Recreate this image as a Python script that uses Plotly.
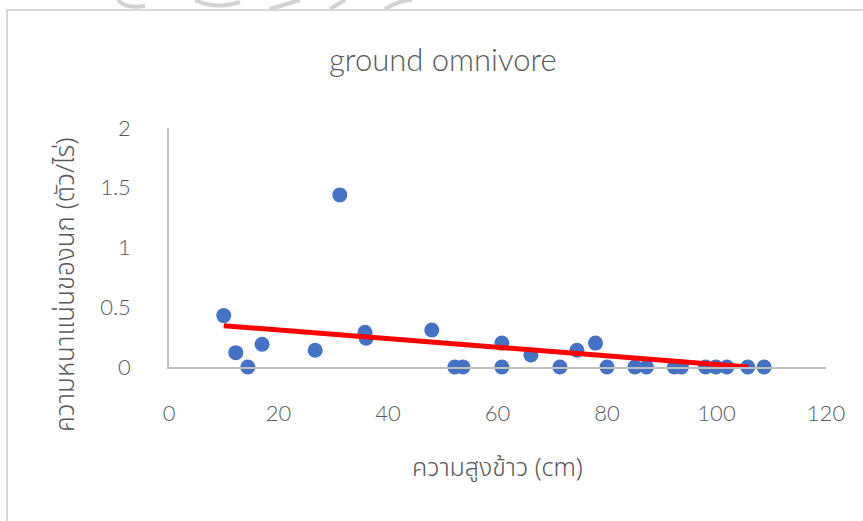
import numpy as np
import plotly.graph_objects as go

# Rice height (cm) vs. ground-omnivore bird density (birds per rai)
rice_height = [10.0, 12.2, 14.4, 17.0, 26.7, 31.2, 35.8, 36.0, 48.0, 52.2, 53.7,
               60.8, 60.8, 66.1, 71.4, 74.5, 77.9, 80.0, 85.1, 87.2, 92.3, 93.6,
               98.0, 99.9, 101.9, 105.7, 108.7]
bird_density = [0.43, 0.12, 0.0, 0.19, 0.14, 1.44, 0.29, 0.24, 0.31, 0.0, 0.0,
                0.20, 0.0, 0.10, 0.0, 0.14, 0.20, 0.0, 0.0, 0.0, 0.0, 0.0,
                0.0, 0.0, 0.0, 0.0, 0.0]

# Linear trendline (intercept, slope)
trend_coef = [0.382, -0.00361]

x_ticks = [0, 20, 40, 60, 80, 100, 120]
y_ticks = [0, 0.5, 1, 1.5, 2]
y_tick_text = ["0", "0.5", "1", "1.5", "2"]

title_text = "ground omnivore"
x_title = "ความสูงข้าว (cm)"
y_title = "ความหนาแน่นของนก (ตัว/ไร่)"

LATIN_FONT = "Lato"
THAI_FONT = "Noto Sans Thai, Noto Sans, sans-serif"
GREY_TEXT = "#595959"
AXIS_GREY = "#BFBFBF"

W, H = 863, 521
L, R, T, B = 169, 37, 128, 154
pw, ph = W - L - R, H - T - B


def px(x):
    return (x - L) / pw


def py(y):
    return (H - B - y) / ph


# trendline drawn from the smallest x until it meets the x axis (y = 0)
x_end = min(max(rice_height), -trend_coef[0] / trend_coef[1])
trend_x = np.array([min(rice_height), x_end])
trend_y = trend_coef[0] + trend_coef[1] * trend_x

fig = go.Figure()
fig.add_trace(go.Scatter(
    x=rice_height, y=bird_density, mode="markers",
    marker=dict(color="#4472C4", size=15, line=dict(width=0)),
    cliponaxis=False, hoverinfo="x+y", showlegend=False,
))
fig.add_trace(go.Scatter(
    x=trend_x, y=trend_y, mode="lines",
    line=dict(color="#FF0000", width=5),
    cliponaxis=False, hoverinfo="skip", showlegend=False,
))

tick_font = dict(family=LATIN_FONT, size=22, color=GREY_TEXT, weight=300)

fig.update_layout(
    width=W, height=H,
    margin=dict(l=L, r=R, t=T, b=B, pad=0),
    paper_bgcolor="white", plot_bgcolor="white",
    font=dict(family=LATIN_FONT, color=GREY_TEXT, size=20),
    showlegend=False,
    xaxis=dict(
        range=[0, 120], tickvals=x_ticks, showgrid=False, zeroline=False,
        showline=True, linecolor=AXIS_GREY, linewidth=1.5,
        ticks="", ticklabelstandoff=26, tickfont=tick_font,
    ),
    yaxis=dict(
        range=[0, 2], tickvals=y_ticks, ticktext=y_tick_text,
        showgrid=False, zeroline=False,
        showline=True, linecolor=AXIS_GREY, linewidth=1.5,
        ticks="", ticklabelstandoff=32, tickfont=tick_font,
    ),
    annotations=[
        dict(text=title_text, xref="paper", yref="paper", x=px(443), y=py(59),
             showarrow=False,
             font=dict(family=LATIN_FONT, size=31, color=GREY_TEXT, weight=300),
             xanchor="center", yanchor="middle"),
        dict(text=x_title, xref="paper", yref="paper", x=px(497), y=py(468),
             showarrow=False,
             font=dict(family=THAI_FONT, size=25, color=GREY_TEXT, weight=300),
             xanchor="center", yanchor="middle"),
        dict(text=y_title, xref="paper", yref="paper", x=px(66), y=py(285),
             showarrow=False, textangle=-90,
             font=dict(family=THAI_FONT, size=26, color=GREY_TEXT, weight=300),
             xanchor="center", yanchor="middle"),
    ],
    shapes=[
        # chart-area border
        dict(type="rect", xref="paper", yref="paper",
             x0=px(7), x1=px(W + 20), y0=py(H + 20), y1=py(10),
             line=dict(color="#D9D9D9", width=2), fillcolor="rgba(0,0,0,0)",
             layer="below"),
        # faint seal strokes above the chart area
        dict(type="path", xref="paper", yref="paper",
             path=f"M {px(118)},{py(0)} Q {px(125)},{py(9)} {px(145)},{py(6)}",
             line=dict(color="#D3D3D3", width=4)),
        dict(type="path", xref="paper", yref="paper",
             path=f"M {px(195)},{py(0)} Q {px(215)},{py(10)} {px(240)},{py(2)}",
             line=dict(color="#D3D3D3", width=4)),
        dict(type="path", xref="paper", yref="paper",
             path=f"M {px(270)},{py(9)} L {px(300)},{py(0)}",
             line=dict(color="#D3D3D3", width=4)),
        dict(type="path", xref="paper", yref="paper",
             path=f"M {px(330)},{py(9)} L {px(345)},{py(0)}",
             line=dict(color="#D3D3D3", width=4)),
        dict(type="path", xref="paper", yref="paper",
             path=f"M {px(385)},{py(9)} Q {px(400)},{py(0)} {px(412)},{py(0)}",
             line=dict(color="#D3D3D3", width=4)),
    ],
)

fig.write_html("out.html")
